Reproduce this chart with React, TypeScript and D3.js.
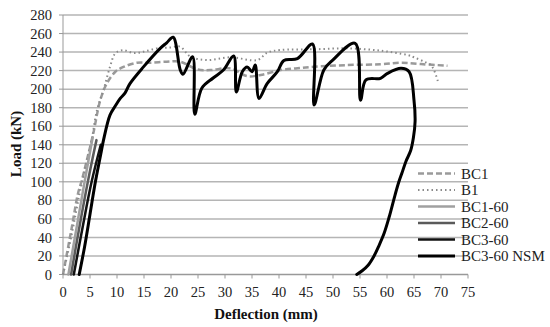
import React from "react";
import * as d3 from "d3";

type P = [number, number];

const xTicks = [0, 5, 10, 15, 20, 25, 30, 35, 40, 45, 50, 55, 60, 65, 70, 75];
const yTicks = [0, 20, 40, 60, 80, 100, 120, 140, 160, 180, 200, 220, 240, 260, 280];

const bc1: P[] = [[0,0],[1.6,50],[2.8,88],[3.5,102],[4.4,123],[5.6,152],[6.9,188],[8.1,206],[9.7,218.8],[11.2,224],[13.7,228.5],[16.1,228.5],[19.2,229.6],[21.7,229.6],[24.8,221.4],[27.3,220.6],[31,222.4],[34.1,214],[36.6,215.3],[40.3,220.6],[43.4,222.5],[46.5,224.2],[52.7,226],[58.8,226.8],[62.6,228.5],[66.3,227],[71.2,225.3]];
const b1: P[] = [[0,0],[1.5,40],[3,85],[4.3,120],[5.3,145],[6.3,177.5],[7.5,199],[8.7,224],[9.7,238.7],[11.2,242],[13,239],[14.9,240.4],[17.4,244],[19.9,245],[21.7,245.8],[23.6,235],[26.7,231.4],[31,234.4],[36,231.4],[37.8,239.3],[40.3,242.2],[46.5,243],[52.7,244],[58.8,241.5],[63.8,236.8],[65,234.4],[66.9,229.6],[68.1,226],[68.7,220.6],[69.5,207]];
const bc160: P[] = [[1.0,0],[2.5,50],[4,100],[5.5,148]];
const bc260: P[] = [[1.5,0],[3,50],[4.6,100],[6.2,145]];
const bc360: P[] = [[2.0,0],[3.6,50],[5.3,100],[7.0,140]];
const bc360nsm: P[] = [[3.0,0],[4,30],[5,65],[6,100],[7,130],[7.5,145],[8.7,172],[9.7,182],[10.6,190],[11.5,196],[12.4,206],[14.9,224],[18,244],[19.2,250],[20.4,256],[21.7,221],[22.2,216],[24,235],[24.4,173],[25.7,201],[27.8,212],[29.7,220.6],[31.6,235.8],[32.1,197],[33.2,218.8],[34.1,224],[35,218.8],[35.6,226],[36.3,190],[37.8,206],[39.7,218.8],[40.9,231],[43.4,233],[46.2,248.7],[46.5,183],[48.3,220.7],[49.9,231],[54.1,249.5],[55.1,188],[56.1,210],[58.8,211.7],[60.1,217],[62.6,222.5],[64.1,218.8],[65.0,188],[65.2,165],[64.9,148],[64.4,134],[63.5,122],[62.8,110],[62.2,100],[61.5,86],[60.4,62],[59.5,45],[58.5,31],[57.6,20],[56.5,10],[55.4,4],[54.4,0]];

const seriesNames = ["BC1", "B1", "BC1-60", "BC2-60", "BC3-60", "BC3-60 NSM"];

const styles = [
  { data: bc1, color: "#9a9a9a", width: 2.5, dash: "6,3" },
  { data: b1, color: "#8a8a8a", width: 2, dash: "1.5,3" },
  { data: bc160, color: "#a0a0a0", width: 2.5, dash: "" },
  { data: bc260, color: "#5a5a5a", width: 2.5, dash: "" },
  { data: bc360, color: "#111", width: 2.5, dash: "" },
  { data: bc360nsm, color: "#000", width: 3, dash: "" },
];

export default function App() {
  const x = d3.scaleLinear().domain([0, 75]).range([63, 468]);
  const y = d3.scaleLinear().domain([0, 280]).range([274.5, 15]);
  const line = d3.line<P>().x((d) => x(d[0])).y((d) => y(d[1])).curve(d3.curveCatmullRom.alpha(0.5));
  const font = "Liberation Serif, DejaVu Serif, serif";
  const tStyle = { fontFamily: font } as React.CSSProperties;
  return (
    <svg width={550} height={327} style={{ position: "absolute", left: 0, top: 0, background: "#fff" }}>
      {yTicks.map((t) => (
        <g key={"y" + t}>
          {t > 0 && <line x1={x(0)} x2={x(75)} y1={y(t)} y2={y(t)} stroke="#b5b5b5" strokeWidth={1.5} />}
          <line x1={x(0) - 4} x2={x(0)} y1={y(t)} y2={y(t)} stroke="#999" strokeWidth={1} />
          <text x={52} y={y(t)} dy="0.35em" textAnchor="end" style={tStyle} fontSize={14.5} fill="#222">{t}</text>
        </g>
      ))}
      <line x1={x(0)} x2={x(0)} y1={y(280)} y2={y(0)} stroke="#999" strokeWidth={1} />
      <line x1={x(0)} x2={x(75)} y1={y(0)} y2={y(0)} stroke="#999" strokeWidth={1.5} />
      {xTicks.map((t) => (
        <g key={"x" + t}>
          <line x1={x(t)} x2={x(t)} y1={y(0)} y2={y(0) + 4} stroke="#999" strokeWidth={1} />
          <text x={x(t)} y={297} textAnchor="middle" style={tStyle} fontSize={14.5} fill="#222">{t}</text>
        </g>
      ))}
      {styles.map((s, i) => (
        <path key={"s" + i} d={line(s.data) || ""} fill="none" stroke={s.color} strokeWidth={s.width}
          strokeDasharray={s.dash || undefined} strokeLinejoin="round" strokeLinecap={s.dash ? "butt" : "round"} />
      ))}
      <text x={266} y={319} textAnchor="middle" style={tStyle} fontSize={15} fontWeight="bold" fill="#111">Deflection (mm)</text>
      <text transform="translate(21,144) rotate(-90)" textAnchor="middle" style={tStyle} fontSize={15} fontWeight="bold" fill="#111">Load (kN)</text>
      {seriesNames.map((n, i) => {
        const s = styles[i];
        const ly = 173.5 + i * 16.5;
        return (
          <g key={"l" + i}>
            <line x1={418} x2={455} y1={ly} y2={ly} stroke={s.color} strokeWidth={s.width}
              strokeDasharray={s.dash || undefined} />
            <text x={461} y={ly} dy="0.35em" style={tStyle} fontSize={15} fill="#222">{n}</text>
          </g>
        );
      })}
    </svg>
  );
}
